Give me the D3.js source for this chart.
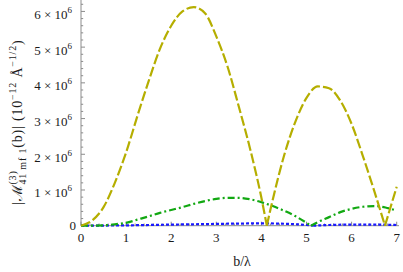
<!DOCTYPE html>
<html>
<head>
<meta charset="utf-8">
<script src="https://cdn.jsdelivr.net/npm/d3@7"></script>
<style>
  body { margin: 0; background: #fff; }
  svg { display: block; }
</style>
</head>
<body>
<div id="chart"></div>
<script>
// valeurs : b/λ et |M| en unités de 10^6
const yellowB = [0, 0.25, 0.5, 0.75, 1, 1.25, 1.5, 1.75, 2, 2.25, 2.5, 2.75, 3, 3.25, 3.5, 3.75, 4, 4.12, 4.25, 4.5, 4.75, 5, 5.25, 5.5, 5.75, 6, 6.25, 6.5, 6.74, 7];
const yellowM = [0, 0.15, 0.52, 1.2, 2.05, 3.07, 4.05, 4.95, 5.6, 6.0, 6.12, 5.95, 5.3, 4.45, 3.33, 2.15, 0.78, 0, 0.72, 1.95, 2.9, 3.58, 3.9, 3.85, 3.5, 2.85, 1.95, 0.98, 0, 1.09];

const greenB = [0, 0.5, 0.75, 1, 1.25, 1.5, 1.75, 2, 2.25, 2.5, 2.75, 3, 3.25, 3.5, 3.75, 4, 4.25, 4.5, 4.75, 5, 5.1, 5.25, 5.5, 5.75, 6, 6.25, 6.5, 6.75, 7];
const greenM = [0, 0.01, 0.04, 0.08, 0.17, 0.26, 0.36, 0.44, 0.52, 0.61, 0.69, 0.75, 0.78, 0.78, 0.74, 0.66, 0.55, 0.42, 0.27, 0.08, 0, 0.1, 0.24, 0.38, 0.47, 0.53, 0.55, 0.51, 0.42];

const blueB = [0, 1, 2, 3, 3.5, 4, 4.5, 5, 5.15, 5.5, 6, 6.5, 7];
const blueM = [0, 0.01, 0.03, 0.05, 0.06, 0.065, 0.055, 0.02, 0, 0.02, 0.03, 0.03, 0.02];

const xTicks = [0, 1, 2, 3, 4, 5, 6, 7];
const yTicks = [0, 1, 2, 3, 4, 5, 6];

const width = 403, height = 272;
const serif = "'Liberation Serif', 'DejaVu Serif', serif";

const x = d3.scaleLinear().domain([0, 7]).range([81, 396.7]);
const y = d3.scaleLinear().domain([0, 6.32]).range([225.7, 0]);

const svg = d3.select("#chart").append("svg")
    .attr("width", width)
    .attr("height", height)
    .style("font-family", serif);

// axes : seulement gauche et bas, graduations vers l'intérieur
const axisColor = "#8c8c8c";
const ax = svg.append("g");
ax.append("line")
    .attr("x1", x(0)).attr("x2", 399)
    .attr("y1", y(0)).attr("y2", y(0))
    .attr("stroke", axisColor);
ax.append("line")
    .attr("x1", x(0)).attr("x2", x(0))
    .attr("y1", y(0)).attr("y2", 0)
    .attr("stroke", axisColor);

// petites graduations tous les 0.2
const xMinor = d3.range(0, 35).map(i => i / 5).filter(v => v % 1 !== 0);
const yMinor = d3.range(0, 32).map(i => i / 5).filter(v => v % 1 !== 0);

ax.selectAll(".xt").data(xTicks.concat(xMinor)).enter().append("line")
    .attr("x1", d => x(d)).attr("x2", d => x(d))
    .attr("y1", y(0)).attr("y2", d => y(0) - (d % 1 === 0 ? 4 : 2.2))
    .attr("stroke", axisColor);
ax.selectAll(".yt").data(yTicks.concat(yMinor)).enter().append("line")
    .attr("x1", x(0)).attr("x2", d => x(0) + (d % 1 === 0 ? 4 : 2.2))
    .attr("y1", d => y(d)).attr("y2", d => y(d))
    .attr("stroke", axisColor);

// étiquettes
ax.selectAll(".xl").data(xTicks).enter().append("text")
    .attr("x", d => x(d)).attr("y", 241.5)
    .attr("text-anchor", "middle")
    .style("font-size", "13px")
    .attr("fill", "#1a1a1a")
    .text(d => d);

yTicks.forEach(d => {
    const t = ax.append("text")
        .attr("text-anchor", "end")
        .attr("fill", "#1a1a1a")
        .style("font-size", "13px");
    if (d === 0) {
        t.attr("x", 76).attr("y", y(d) + 4.6).text("0");
    } else {
        t.attr("x", 72).attr("y", y(d) + 7.5);
        t.append("tspan").text(d + " × 10");
        t.append("tspan").attr("dy", -6).style("font-size", "9px").text("6");
    }
});

// courbes : on coupe aux zéros pour garder les pointes en V
function pathFor(bs, ms) {
    const pts = bs.map((b, i) => [b, ms[i]]);
    const segs = [];
    let cur = [pts[0]];
    for (let i = 1; i < pts.length; i++) {
        cur.push(pts[i]);
        if (pts[i][1] === 0 && i < pts.length - 1) {
            segs.push(cur);
            cur = [pts[i]];
        }
    }
    segs.push(cur);
    const line = d3.line()
        .x(d => x(d[0]))
        .y(d => y(d[1]))
        .curve(d3.curveMonotoneX);
    return segs.map(s => line(s)).join("");
}

const series = [
    {b: blueB, m: blueM, color: "#1a1aff", dash: "3,2"},
    {b: greenB, m: greenM, color: "#12a812", dash: "7,3,2,3"},
    {b: yellowB, m: yellowM, color: "#b5ae00", dash: "10,3"}
];

svg.append("g").selectAll("path").data(series).enter().append("path")
    .attr("d", d => pathFor(d.b, d.m))
    .attr("fill", "none")
    .attr("stroke", d => d.color)
    .attr("stroke-width", 2.2)
    .attr("stroke-dasharray", d => d.dash);

// titre de l'axe x
svg.append("text")
    .attr("x", 242).attr("y", 266)
    .attr("text-anchor", "middle")
    .attr("fill", "#1a1a1a")
    .style("font-size", "14px")
    .text("b/λ");

// titre de l'axe y, tourné
const yl = svg.append("text")
    .attr("transform", "translate(22,205) rotate(-90)")
    .attr("fill", "#1a1a1a")
    .style("font-size", "14px");
yl.append("tspan").text("|ℳ");
const sup3 = yl.append("tspan").attr("dy", -6).style("font-size", "10px").text("(3)");
const sub41 = yl.append("tspan").attr("dy", 10).style("font-size", "10px").text("41 mf 1");
yl.append("tspan").attr("dy", -4).text("(b)|  (10");
yl.append("tspan").attr("dy", -6).style("font-size", "10px").text("−12");
yl.append("tspan").attr("dy", 6).text(" Å");
yl.append("tspan").attr("dy", -6).style("font-size", "10px").text("−1/2");
yl.append("tspan").attr("dy", 6).text(")");

// on étire un peu l'espacement pour couvrir la même longueur que l'original,
// puis on recule l'indice sous l'exposant
const w3a = sup3.node().getComputedTextLength();
const target = 178 - w3a;
const len = yl.node().getComputedTextLength() - w3a;
const nChars = yl.text().length - 3;
if (len < target) yl.style("letter-spacing", ((target - len) / nChars) + "px");
sub41.attr("dx", -sup3.node().getComputedTextLength());
</script>
</body>
</html>
